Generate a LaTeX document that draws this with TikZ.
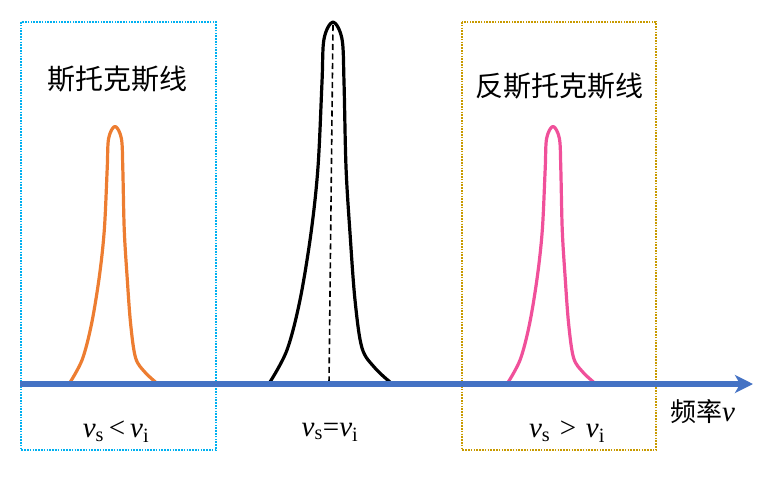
\documentclass[tikz,border=0pt]{standalone}
\usepackage{fontspec}
\setmainfont{Liberation Serif}
\newfontfamily\cjk{Noto Sans CJK SC}
\usetikzlibrary{arrows.meta}
\definecolor{axisblue}{HTML}{4472C4}
\definecolor{boxcyan}{HTML}{00B0F0}
\definecolor{boxgold}{HTML}{C89A00}
\definecolor{peakorange}{HTML}{ED7D31}
\definecolor{peakpink}{HTML}{F0509A}
\tikzset{
  dotbox/.style={line width=1.6pt, dash pattern=on 1.6pt off 1.2pt},
  peakline/.style={line width=3.2pt, line join=round, line cap=round},
  cjklabel/.style={font=\cjk\fontsize{28}{32}\selectfont, inner sep=0pt},
  mathlabel/.style={font=\fontsize{29}{32}\selectfont, inner sep=0pt},
}
\newcommand{\peakshape}{plot[smooth, tension=0.55] coordinates {(-63,0) (-46,-32) (-33,-82) (-22,-149) (-15,-215) (-11,-300) (-9,-343) (0,-360) (9,-343) (11,-300) (13,-215) (17,-149) (22,-82) (29,-34) (42,-14) (57,0)}}
\begin{document}
\begin{tikzpicture}[x=1pt,y=-1pt]
\useasboundingbox (0,0) rectangle (768,477);
% boxes
\draw[dotbox, boxcyan] (21,22) rectangle (216,450);
\draw[dotbox, boxgold] (462,22) rectangle (656,450);
% peaks
\begin{scope}[shift={(115,382)}, scale=0.71]
  \draw[peakline, peakorange] \peakshape;
\end{scope}
\begin{scope}[shift={(553,382)}, scale=0.71]
  \draw[peakline, peakpink] \peakshape;
\end{scope}
\begin{scope}[shift={(333,382)}]
  \draw[peakline, black] \peakshape;
\end{scope}
\coordinate (dtop) at (333,25);
\coordinate (dbot) at (329,384);
\draw[black, line width=1.6pt, dash pattern=on 6pt off 3.5pt] (dtop) -- (dbot);
% axis
\coordinate (axstart) at (20,384);
\coordinate (axend) at (753,384);
\draw[axisblue, line width=5.5pt, -{Stealth[length=18pt,width=18pt,inset=5pt]}] (axstart) -- (axend);
% texts
\node[cjklabel] (stokes) at (117,79) {斯托克斯线};
\node[cjklabel] (antistokes) at (559,86) {反斯托克斯线};
\node[mathlabel] (l1) at (116,432) {\textit{v}\textsubscript{s}\,<\,\textit{v}\textsubscript{i}};
\node[mathlabel] (l2) at (330,432) {\textit{v}\textsubscript{s}=\textit{v}\textsubscript{i}};
\node[mathlabel] (l3) at (567,432) {\textit{v}\textsubscript{s}\,\,>\,\,\textit{v}\textsubscript{i}};
\node[mathlabel, anchor=west] (freq) at (670,412) {{\cjk\fontsize{26}{30}\selectfont 频率}\textit{v}};
\end{tikzpicture}
\end{document}
